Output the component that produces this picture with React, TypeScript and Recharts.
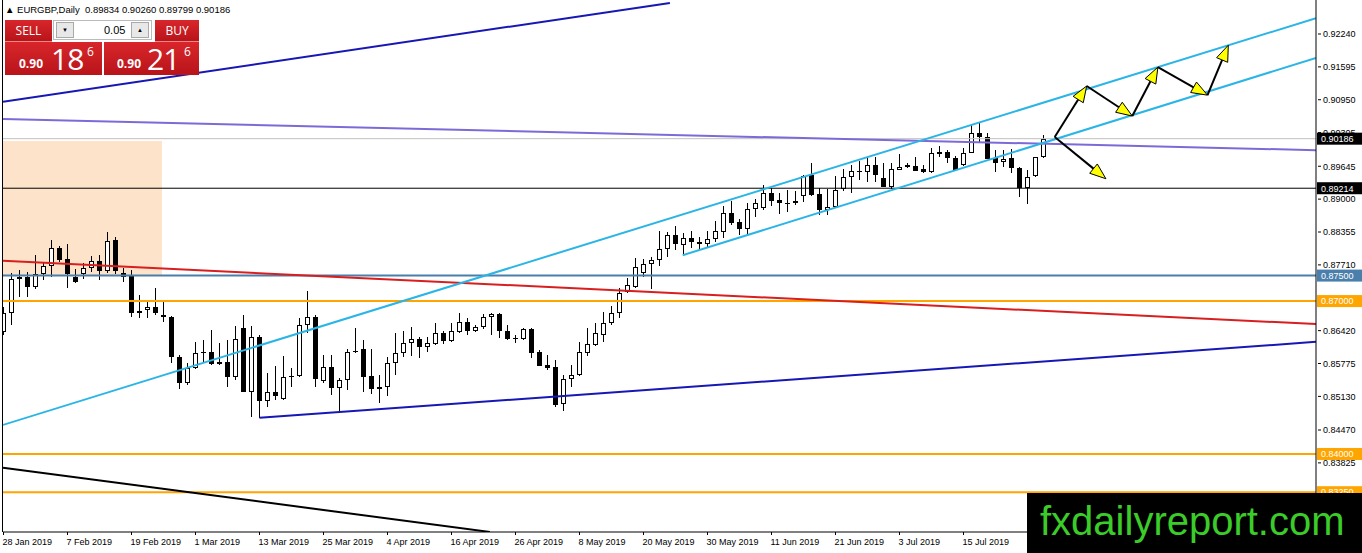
import React from 'react'
import { ComposedChart, Bar, XAxis, YAxis, ReferenceLine, ReferenceArea } from 'recharts'

// daily candles, index 0 = 28 Jan 2019
const opens = [
  0.8639, 0.8677, 0.8743, 0.8747, 0.8728, 0.8753, 0.8769, 0.8804, 0.8783, 0.8747,
  0.8753, 0.8765, 0.8779, 0.8759, 0.8820, 0.8755, 0.8749, 0.8677, 0.8683, 0.8688,
  0.8673, 0.8669, 0.8590, 0.8539, 0.8569, 0.8600, 0.8600, 0.8577, 0.8581, 0.8551,
  0.8647, 0.8522, 0.8630, 0.8504, 0.8522, 0.8508, 0.8551, 0.8553, 0.8653, 0.8669,
  0.8543, 0.8571, 0.8529, 0.8545, 0.8600, 0.8606, 0.8553, 0.8528, 0.8531, 0.8579,
  0.8598, 0.8618, 0.8626, 0.8610, 0.8616, 0.8637, 0.8622, 0.8639, 0.8659, 0.8641,
  0.8649, 0.8669, 0.8675, 0.8641, 0.8627, 0.8626, 0.8645, 0.8600, 0.8575, 0.8571,
  0.8498, 0.8547, 0.8555, 0.8598, 0.8614, 0.8633, 0.8657, 0.8677, 0.8718, 0.8728,
  0.8755, 0.8773, 0.8781, 0.8802, 0.8830, 0.8810, 0.8824, 0.8816, 0.8812, 0.8822,
  0.8835, 0.8873, 0.8855, 0.8841, 0.8881, 0.8883, 0.8912, 0.8898, 0.8892, 0.8892,
  0.8906, 0.8947, 0.8910, 0.8879, 0.8885, 0.8920, 0.8943, 0.8955, 0.8953, 0.8967,
  0.8942, 0.8924, 0.8957, 0.8967, 0.8965, 0.8959, 0.8953, 0.8989, 0.8993, 0.8981,
  0.8967, 0.8991, 0.9030, 0.9022, 0.8981, 0.8973, 0.8981, 0.8961, 0.8922, 0.8945,
  0.89834,
]
const highs = [
  0.8688, 0.8755, 0.8761, 0.8757, 0.8790, 0.8777, 0.8820, 0.8808, 0.8812, 0.8763,
  0.8775, 0.8788, 0.8790, 0.8836, 0.8826, 0.8765, 0.8761, 0.8712, 0.8702, 0.8726,
  0.8698, 0.8670, 0.8594, 0.8579, 0.8620, 0.8624, 0.8643, 0.8618, 0.8624, 0.8651,
  0.8673, 0.8651, 0.8633, 0.8559, 0.8573, 0.8592, 0.8569, 0.8667, 0.8720, 0.8673,
  0.8594, 0.8594, 0.8549, 0.8606, 0.8647, 0.8624, 0.8606, 0.8555, 0.8590, 0.8637,
  0.8641, 0.8649, 0.8630, 0.8630, 0.8657, 0.8641, 0.8657, 0.8677, 0.8667, 0.8653,
  0.8675, 0.8677, 0.8677, 0.8653, 0.8633, 0.8647, 0.8647, 0.8604, 0.8594, 0.8584,
  0.8555, 0.8575, 0.8620, 0.8647, 0.8657, 0.8679, 0.8690, 0.8726, 0.8745, 0.8785,
  0.8783, 0.8786, 0.8837, 0.8836, 0.8847, 0.8834, 0.8837, 0.8826, 0.8837, 0.8857,
  0.8887, 0.8896, 0.8861, 0.8892, 0.8900, 0.8928, 0.8922, 0.8912, 0.8918, 0.8916,
  0.8947, 0.8971, 0.8922, 0.8920, 0.8946, 0.8959, 0.8967, 0.8975, 0.8981, 0.8983,
  0.8971, 0.8971, 0.8989, 0.8971, 0.8983, 0.8967, 0.9000, 0.9004, 0.8997, 0.8985,
  0.9000, 0.9046, 0.9051, 0.9030, 0.8997, 0.8997, 0.8998, 0.8963, 0.8957, 0.8983,
  0.90260,
]
const lows = [
  0.8633, 0.8653, 0.8708, 0.8708, 0.8724, 0.8741, 0.8747, 0.8777, 0.8726, 0.8736,
  0.8743, 0.8757, 0.8741, 0.8755, 0.8753, 0.8737, 0.8669, 0.8667, 0.8667, 0.8673,
  0.8659, 0.8579, 0.8528, 0.8535, 0.8567, 0.8579, 0.8575, 0.8575, 0.8531, 0.8545,
  0.8521, 0.8473, 0.8471, 0.8492, 0.8506, 0.8506, 0.8531, 0.8551, 0.8637, 0.8531,
  0.8539, 0.8516, 0.8480, 0.8526, 0.8598, 0.8522, 0.8518, 0.8500, 0.8514, 0.8555,
  0.8590, 0.8592, 0.8588, 0.8600, 0.8614, 0.8616, 0.8620, 0.8637, 0.8633, 0.8639,
  0.8645, 0.8633, 0.8627, 0.8624, 0.8618, 0.8624, 0.8588, 0.8572, 0.8565, 0.8492,
  0.8484, 0.8531, 0.8553, 0.8592, 0.8612, 0.8620, 0.8653, 0.8667, 0.8716, 0.8726,
  0.8747, 0.8724, 0.8769, 0.8786, 0.8800, 0.8790, 0.8804, 0.8800, 0.8806, 0.8816,
  0.8824, 0.8849, 0.8829, 0.8829, 0.8865, 0.8879, 0.8887, 0.8871, 0.8875, 0.8888,
  0.8894, 0.8906, 0.8869, 0.8869, 0.8883, 0.8916, 0.8912, 0.8938, 0.8934, 0.8934,
  0.8924, 0.8920, 0.8957, 0.8961, 0.8955, 0.8951, 0.8951, 0.8983, 0.8971, 0.8955,
  0.8965, 0.8990, 0.9012, 0.8978, 0.8953, 0.8963, 0.8951, 0.8904, 0.8890, 0.8943,
  0.89799,
]
const closes = [
  0.8677, 0.8743, 0.8747, 0.8728, 0.8753, 0.8769, 0.8804, 0.8781, 0.8753, 0.8738,
  0.8765, 0.8779, 0.8759, 0.8818, 0.8759, 0.8747, 0.8677, 0.8681, 0.8688, 0.8677,
  0.8669, 0.8590, 0.8539, 0.8569, 0.8598, 0.8598, 0.8577, 0.8581, 0.8551, 0.8626,
  0.8522, 0.8630, 0.8504, 0.8522, 0.8514, 0.8551, 0.8553, 0.8653, 0.8669, 0.8547,
  0.8571, 0.8529, 0.8545, 0.8600, 0.8602, 0.8551, 0.8528, 0.8531, 0.8579, 0.8598,
  0.8618, 0.8626, 0.8610, 0.8618, 0.8637, 0.8622, 0.8641, 0.8659, 0.8641, 0.8649,
  0.8669, 0.8675, 0.8641, 0.8626, 0.8628, 0.8646, 0.8598, 0.8573, 0.8569, 0.8496,
  0.8547, 0.8555, 0.8600, 0.8616, 0.8637, 0.8657, 0.8677, 0.8716, 0.8732, 0.8767,
  0.8773, 0.8781, 0.8802, 0.8830, 0.8812, 0.8824, 0.8816, 0.8812, 0.8822, 0.8837,
  0.8873, 0.8853, 0.8841, 0.8881, 0.8892, 0.8912, 0.8896, 0.8892, 0.8893, 0.8896,
  0.8945, 0.8908, 0.8879, 0.8885, 0.8918, 0.8943, 0.8955, 0.8956, 0.8967, 0.8947,
  0.8924, 0.8959, 0.8963, 0.8963, 0.8955, 0.8953, 0.8991, 0.8993, 0.8981, 0.8957,
  0.8991, 0.9030, 0.9022, 0.8979, 0.8971, 0.8979, 0.8961, 0.8922, 0.8943, 0.8982,
  0.90186,
]

const dateTicks = [0, 8, 16, 24, 32, 40, 48, 56, 64, 72, 80, 88, 96, 104, 112, 120]
const dateLabels = [
  '28 Jan 2019', '7 Feb 2019', '19 Feb 2019', '1 Mar 2019', '13 Mar 2019', '25 Mar 2019',
  '4 Apr 2019', '16 Apr 2019', '26 Apr 2019', '8 May 2019', '20 May 2019', '30 May 2019',
  '11 Jun 2019', '21 Jun 2019', '3 Jul 2019', '15 Jul 2019',
]
const priceTicks = [
  0.9224, 0.91595, 0.9095, 0.90305, 0.89645, 0.89, 0.88355, 0.8771,
  0.8642, 0.85775, 0.8513, 0.8447, 0.83825,
]

// horizontal levels and their looks
const levelPrices = [0.90186, 0.89214, 0.875, 0.87, 0.84, 0.8325]
const levelLook = [
  { line: '#c0c0c0', box: '#000000', w: 1 },
  { line: '#000000', box: '#000000', w: 1 },
  { line: '#4a7fab', box: '#4a7fab', w: 2 },
  { line: '#ffa500', box: '#ffa500', w: 2 },
  { line: '#ffa500', box: '#ffa500', w: 2 },
  { line: '#ffa500', box: '#ffa500', w: 2 },
]

// trend lines in [bar index, price]
const trendLines = [
  { from: [-0.06, 0.9091], to: [83.3, 0.9285] },
  { from: [-0.06, 0.9057], to: [164.06, 0.8996] },
  { from: [-0.06, 0.8779], to: [164.06, 0.8655] },
  { from: [32, 0.8471], to: [164.06, 0.862] },
  { from: [-0.06, 0.8457], to: [164.06, 0.9255] },
  { from: [84.9, 0.879], to: [164.06, 0.9177] },
  { from: [-0.06, 0.8373], to: [60.8, 0.8247] },
]
const trendColors = ['#1717b5', '#7d6ad8', '#d81e1e', '#1717b5', '#2bb5e6', '#2bb5e6', '#000000']

const zigzag = [
  [131.4, 0.9022], [135.4, 0.9122], [141.1, 0.9063], [144.3, 0.9159], [150.5, 0.9104], [153.1, 0.9202],
]
const dropArrow = [[131.4, 0.9022], [137.8, 0.894]]

const zone = { x1: -0.0625, x2: 19.8, y1: 0.8749, y2: 0.9014 }

const candles = opens.map((o, i) => ({
  i,
  o,
  h: highs[i],
  l: lows[i],
  c: closes[i],
  hl: [lows[i], highs[i]],
}))

const FONT = '"Liberation Sans", Arial, sans-serif'

const Candle = (props: any) => {
  const { x, y, width, height, payload } = props
  if (x == null || y == null || !payload) return null
  const top = Math.min(y, y + height)
  const span = Math.abs(height)
  const range = payload.h - payload.l
  const py = (v: number) => (range > 0 ? top + ((payload.h - v) / range) * span : top)
  const cx = Math.round(x + width / 2 - 0.5) + 0.5
  const yo = py(payload.o)
  const yc = py(payload.c)
  const b0 = Math.round(Math.min(yo, yc))
  const b1 = Math.round(Math.max(yo, yc))
  const up = payload.c >= payload.o
  return (
    <g shapeRendering="crispEdges">
      <line x1={cx} x2={cx} y1={Math.round(top)} y2={Math.round(top + span)} stroke="#000" strokeWidth={1} />
      {b1 - b0 < 2 ? (
        <line x1={cx - 2.5} x2={cx + 2.5} y1={b0 + 0.5} y2={b0 + 0.5} stroke="#000" strokeWidth={1} />
      ) : up ? (
        <rect x={cx - 2} y={b0 + 0.5} width={4} height={b1 - b0 - 1} fill="#fff" stroke="#000" strokeWidth={1} />
      ) : (
        <rect x={cx - 2.5} y={b0} width={5} height={b1 - b0} fill="#000" />
      )}
    </g>
  )
}

const XTick = (props: any) => {
  const { x, y, payload } = props
  const k = dateTicks.indexOf(payload.value)
  return (
    <g>
      <line x1={x} x2={x} y1={y} y2={y + 3} stroke="#000" />
      <text x={x - 1} y={y + 13} fontSize={9} fontFamily={FONT} fill="#000" textAnchor="start">
        {dateLabels[k]}
      </text>
    </g>
  )
}

const YTick = (props: any) => {
  const { x, y, payload } = props
  return (
    <g>
      <line x1={x + 2} x2={x + 5} y1={y} y2={y} stroke="#000" />
      <text x={x + 7} y={y + 3.3} fontSize={9} fontFamily={FONT} fill="#000" textAnchor="start">
        {Number(payload.value).toFixed(5)}
      </text>
    </g>
  )
}

const LevelBox = (props: any) => {
  const { viewBox, price, bg } = props
  if (!viewBox) return null
  const x = viewBox.x + viewBox.width + 1
  const y = viewBox.y
  return (
    <g>
      <rect x={x} y={y - 6} width={45} height={12} fill={bg} />
      <text x={x + 4} y={y + 3.3} fontSize={9} fontFamily={FONT} fill="#fff">
        {price.toFixed(5)}
      </text>
    </g>
  )
}

const Arrow = (props: any) => {
  const { x1, y1, x2, y2 } = props
  if (x1 == null) return null
  const dx = x2 - x1
  const dy = y2 - y1
  const len = Math.sqrt(dx * dx + dy * dy) || 1
  const ux = dx / len
  const uy = dy / len
  const L = 16
  const W = 6
  const bx = x2 - ux * L
  const by = y2 - uy * L
  const pts = `${x2},${y2} ${bx - uy * W},${by + ux * W} ${bx + uy * W},${by - ux * W}`
  return (
    <g>
      <line x1={x1} y1={y1} x2={bx} y2={by} stroke="#000" strokeWidth={2} />
      <polygon points={pts} fill="#ffff00" stroke="#000" strokeWidth={1} />
    </g>
  )
}

const redBox: React.CSSProperties = {
  position: 'absolute',
  background: 'linear-gradient(#d8262b, #b8141a)',
  color: '#fff',
  fontFamily: '"Open Sans", "Liberation Sans", sans-serif',
}

export default function App() {
  const arrowSegs = [
    ...zigzag.slice(1).map((p, k) => [zigzag[k], p]),
    [dropArrow[0], dropArrow[1]],
  ]
  return (
    <div style={{ position: 'absolute', left: 0, top: 0, width: 1362, height: 553, background: '#fff', overflow: 'hidden' }}>
      <ComposedChart width={1362} height={553} data={candles} margin={{ top: 0, right: 0, left: 3, bottom: 0 }}>
        <ReferenceArea
          x1={zone.x1}
          x2={zone.x2}
          y1={zone.y1}
          y2={zone.y2}
          fill="#fde3c9"
          fillOpacity={1}
          stroke="none"
          ifOverflow="hidden"
        />
        <XAxis
          dataKey="i"
          type="number"
          domain={[-0.0625, 164.0625]}
          allowDataOverflow
          ticks={dateTicks}
          interval={0}
          tick={<XTick />}
          tickLine={false}
          tickSize={0}
          tickMargin={0}
          axisLine={{ stroke: '#000' }}
          height={21}
        />
        <YAxis
          orientation="right"
          type="number"
          domain={[0.82469, 0.92907]}
          allowDataOverflow
          ticks={priceTicks}
          interval={0}
          tick={<YTick />}
          tickLine={false}
          tickSize={0}
          tickMargin={0}
          axisLine={{ stroke: '#000' }}
          width={46}
        />
        {levelPrices.map((p, k) => (
          <ReferenceLine
            key={'lv' + k}
            y={p}
            stroke={levelLook[k].line}
            strokeWidth={levelLook[k].w}
            label={<LevelBox price={p} bg={levelLook[k].box} />}
          />
        ))}
        <Bar dataKey="hl" barSize={5} shape={<Candle />} isAnimationActive={false} />
        {trendLines.map((t, k) => (
          <ReferenceLine
            key={'tl' + k}
            segment={[
              { x: t.from[0], y: t.from[1] },
              { x: t.to[0], y: t.to[1] },
            ]}
            stroke={trendColors[k]}
            strokeWidth={2}
            ifOverflow="hidden"
          />
        ))}
        {arrowSegs.map((s, k) => (
          <ReferenceLine
            key={'ar' + k}
            segment={[
              { x: s[0][0], y: s[0][1] },
              { x: s[1][0], y: s[1][1] },
            ]}
            shape={<Arrow />}
            ifOverflow="visible"
          />
        ))}
      </ComposedChart>

      <div style={{ position: 'absolute', left: 0, top: 0, width: 2, height: 532, borderRight: '1px solid #000' }} />

      <div style={{ position: 'absolute', left: 5, top: 4, fontSize: 9.5, lineHeight: '12px', fontFamily: FONT, color: '#000', whiteSpace: 'pre' }}>
        {'\u25B2 EURGBP,Daily  0.89834 0.90260 0.89799 0.90186'}
      </div>

      <div style={{ ...redBox, left: 5, top: 20, width: 47, height: 21, fontSize: 12, lineHeight: '21px', textAlign: 'center', borderBottom: '1px solid #e88' }}>SELL</div>
      <div style={{ ...redBox, left: 155, top: 20, width: 44, height: 21, fontSize: 12, lineHeight: '21px', textAlign: 'center', borderBottom: '1px solid #e88' }}>BUY</div>
      <div style={{ position: 'absolute', left: 53, top: 20, width: 99, height: 20, background: '#fff', border: '1px solid #bbb', boxSizing: 'border-box' }}>
        <div style={{ position: 'absolute', left: 2, top: 1, width: 18, height: 16, background: '#e8e8e8', border: '1px solid #aaa', boxSizing: 'border-box', fontSize: 6, lineHeight: '14px', textAlign: 'center' }}>{'\u25BC'}</div>
        <div style={{ position: 'absolute', left: 50, top: 0, fontSize: 11, lineHeight: '18px', fontFamily: FONT }}>0.05</div>
        <div style={{ position: 'absolute', right: 2, top: 1, width: 18, height: 16, background: '#e8e8e8', border: '1px solid #aaa', boxSizing: 'border-box', fontSize: 6, lineHeight: '14px', textAlign: 'center' }}>{'\u25B2'}</div>
      </div>
      <div style={{ ...redBox, left: 5, top: 42, width: 97, height: 33 }}>
        <span style={{ position: 'absolute', left: 14, top: 15, fontSize: 12, lineHeight: '14px', fontWeight: 700 }}>0.90</span>
        <span style={{ position: 'absolute', left: 46, top: 2, fontSize: 30, lineHeight: '30px', letterSpacing: -1 }}>18</span>
        <span style={{ position: 'absolute', left: 82, top: 3, fontSize: 12, lineHeight: '14px' }}>6</span>
      </div>
      <div style={{ ...redBox, left: 104, top: 42, width: 95, height: 33 }}>
        <span style={{ position: 'absolute', left: 13, top: 15, fontSize: 12, lineHeight: '14px', fontWeight: 700 }}>0.90</span>
        <span style={{ position: 'absolute', left: 43, top: 2, fontSize: 30, lineHeight: '30px', letterSpacing: -1 }}>21</span>
        <span style={{ position: 'absolute', left: 80, top: 3, fontSize: 12, lineHeight: '14px' }}>6</span>
      </div>

      <div style={{ position: 'absolute', left: 1027, top: 493, width: 335, height: 60, background: '#000' }}>
        <svg width={335} height={60}>
          <text x={13} y={42} fontSize={40} fontFamily={FONT} fill="#3ccc2a">
            fxdailyreport.com
          </text>
        </svg>
      </div>
    </div>
  )
}
